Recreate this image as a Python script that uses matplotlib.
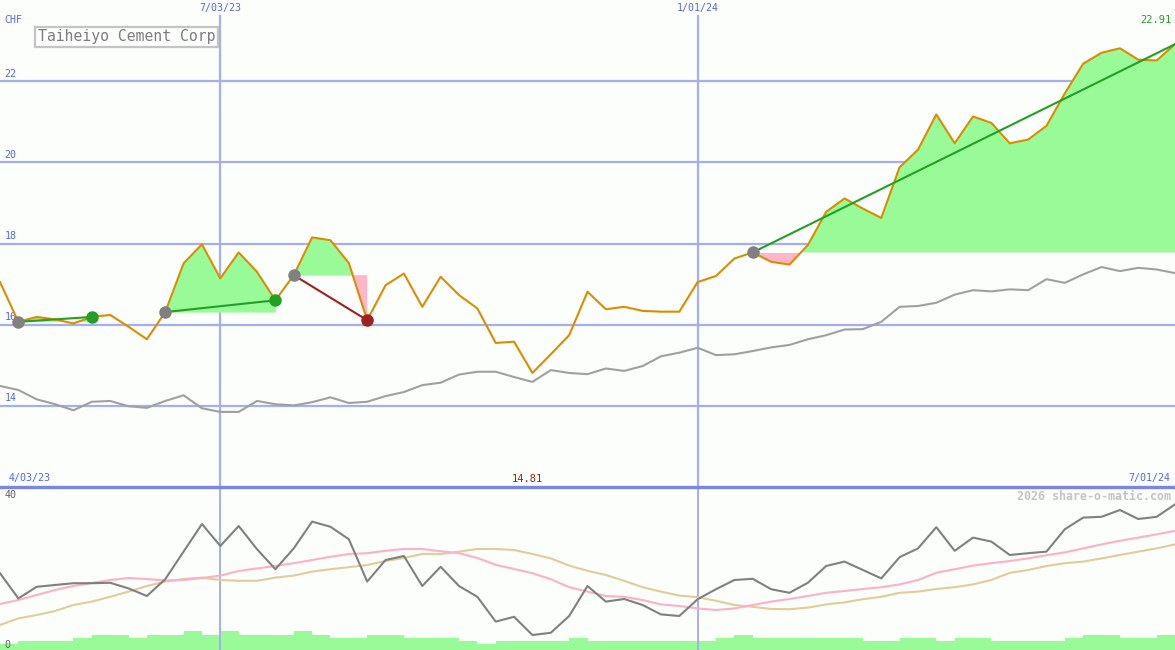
import matplotlib
matplotlib.use("Agg")
import matplotlib.pyplot as plt
import matplotlib.transforms as mtransforms
import numpy as np

# ---------------- data (weekly, 65 points) ----------------
price = [17.05, 16.07, 16.19, 16.13, 16.03, 16.19, 16.24, 15.95, 15.64, 16.31,
         17.51, 17.98, 17.14, 17.78, 17.30, 16.60, 17.22, 18.15, 18.08, 17.52,
         16.11, 16.97, 17.26, 16.44, 17.18, 16.73, 16.40, 15.55, 15.58, 14.81,
         15.27, 15.74, 16.81, 16.38, 16.44, 16.34, 16.32, 16.32, 17.05, 17.20,
         17.63, 17.78, 17.55, 17.48, 17.96, 18.78, 19.11, 18.86, 18.63, 19.88,
         20.31, 21.18, 20.47, 21.13, 20.97, 20.47, 20.56, 20.90, 21.70, 22.43,
         22.70, 22.81, 22.53, 22.51, 22.91]

bench = [14.49, 14.39, 14.16, 14.04, 13.89, 14.10, 14.12, 13.99, 13.95, 14.12,
         14.26, 13.94, 13.85, 13.85, 14.12, 14.04, 14.01, 14.09, 14.21, 14.07,
         14.10, 14.24, 14.34, 14.51, 14.57, 14.77, 14.84, 14.84, 14.71, 14.59,
         14.88, 14.81, 14.78, 14.92, 14.86, 14.98, 15.22, 15.31, 15.43, 15.25,
         15.27, 15.35, 15.44, 15.50, 15.64, 15.74, 15.88, 15.89, 16.07, 16.44,
         16.46, 16.54, 16.74, 16.85, 16.82, 16.87, 16.85, 17.12, 17.03, 17.24,
         17.42, 17.32, 17.40, 17.36, 17.27]

osc = [19.2, 12.9, 15.8, 16.25, 16.7, 16.7, 16.8, 15.4, 13.5, 17.7,
       24.6, 31.5, 26.0, 31.0, 25.2, 20.2, 25.4, 32.1, 30.8, 27.7,
       17.1, 22.5, 23.5, 16.0, 20.8, 16.0, 13.3, 7.1, 8.3, 3.75,
       4.3, 8.5, 16.0, 12.1, 12.75, 11.25, 8.9, 8.5, 12.7, 15.2,
       17.5, 17.8, 15.2, 14.3, 16.8, 21.0, 22.1, 20.0, 17.9, 23.2,
       25.4, 30.7, 24.8, 28.1, 27.1, 23.75, 24.2, 24.6, 30.2, 33.1,
       33.3, 35.0, 32.75, 33.3, 36.4]

ma_fast = [11.5, 12.5, 13.75, 15.0, 16.0, 16.75, 17.5, 18.0, 17.75, 17.4,
           17.5, 18.0, 18.6, 19.75, 20.4, 21.0, 21.7, 22.5, 23.3, 24.0,
           24.2, 24.8, 25.25, 25.25, 24.7, 24.2, 23.0, 21.3, 20.25, 19.2,
           17.7, 15.7, 14.6, 13.5, 13.3, 12.5, 11.4, 11.0, 10.4, 10.0,
           10.4, 11.25, 12.1, 12.75, 13.5, 14.3, 14.75, 15.25, 15.7, 16.4,
           17.5, 19.3, 20.2, 21.1, 21.7, 22.25, 22.9, 23.7, 24.4, 25.4,
           26.4, 27.3, 28.1, 28.9, 29.8]

ma_slow = [6.25, 7.9, 8.75, 9.75, 11.25, 12.1, 13.3, 14.6, 16.0, 17.1,
           17.75, 18.1, 17.5, 17.3, 17.3, 18.1, 18.6, 19.6, 20.2, 20.7,
           21.25, 22.25, 23.0, 24.0, 24.0, 24.6, 25.25, 25.25, 25.0, 24.0,
           22.9, 21.1, 19.8, 18.75, 17.3, 15.7, 14.6, 13.6, 13.2, 12.3,
           11.25, 10.8, 10.25, 10.2, 10.6, 11.4, 11.9, 12.7, 13.3, 14.3,
           14.6, 15.25, 15.7, 16.4, 17.5, 19.3, 20.0, 21.0, 21.7, 22.1,
           22.9, 23.75, 24.6, 25.4, 26.4]

volume = [2, 3, 3, 3, 4, 5, 5, 4, 5, 5, 6, 5, 6, 5, 5, 5, 6, 5, 4, 4,
          5, 5, 4, 4, 4, 3, 2, 3, 3, 3, 3, 4, 3, 3, 3, 3, 3, 3, 3, 4,
          5, 4, 4, 4, 4, 4, 4, 3, 3, 4, 4, 3, 4, 4, 3, 3, 3, 3, 4, 5,
          5, 4, 4, 5]

# trend segments: (start index, end index)
trends = [(1, 5), (9, 15), (16, 20), (41, 64)]

price_ticks = [14, 16, 18, 20, 22]
vlines = [(12, "7/03/23"), (38, "1/01/24")]
start_label, end_label = "4/03/23", "7/01/24"
title = "Taiheiyo Cement Corp"
currency = "CHF"
osc_labels = [(40, "40"), (0, "0")]

# ---------------- style ----------------
BG = "#fbfefb"
GRID = "#a4aef0"
SEP = "#7a86e6"
BLUE_TXT = "#5566e8"
ORANGE = "#dd8c00"
GRAY = "#a0a0a0"
DGRAY = "#808080"
PINK = "#ffb0c8"
TAN = "#e2cc98"
LGREEN = "#98fb98"
LPINK = "#ffb6c8"
DGREEN = "#22a022"
DRED = "#a02020"
FONT = "DejaVu Sans Mono"

W, H = 1175, 650
fig = plt.figure(figsize=(W / 100, H / 100), dpi=100, facecolor=BG)
split = 487
ax = fig.add_axes([0, (H - split) / H, 1, split / H])
axl = fig.add_axes([0, 0, 1, (H - split) / H])
for a in (ax, axl):
    a.set_facecolor(BG)
    a.set_xticks([])
    a.set_yticks([])
    for s in a.spines.values():
        s.set_visible(False)

n = len(price)
x = np.arange(n)
ax.set_xlim(0, n - 1)
ax.set_ylim(12, 24)
axl.set_xlim(0, n - 1)
LTOP = 40.75
axl.set_ylim(0, LTOP)

# ---------------- top panel ----------------
for t in price_ticks:
    ax.axhline(t, color=GRID, lw=1.6, zorder=1)
    ax.text(0.004, t + 0.06, str(t), transform=mtransforms.blended_transform_factory(ax.transAxes, ax.transData),
            ha="left", va="bottom", color=BLUE_TXT, fontsize=7.2, family=FONT, zorder=2)

for xi, lab in vlines:
    ax.axvline(xi, ymin=0, ymax=(split - 16) / split, color=GRID, lw=1.6, zorder=1)
    ax.text(xi, 1 - 8 / split, lab, transform=mtransforms.blended_transform_factory(ax.transData, ax.transAxes),
            ha="center", va="center", color=BLUE_TXT, fontsize=7.2, family=FONT)
    axl.axvline(xi, color=GRID, lw=1.4, zorder=1)

ax.text(0.004, 1 - 20 / split, currency, transform=ax.transAxes, ha="left", va="center",
        color=BLUE_TXT, fontsize=7.2, family=FONT)
ax.text(38 / W, 1 - 37 / split, title, transform=ax.transAxes, ha="left", va="center",
        color="#7c7c7c", fontsize=10.6, family=FONT,
        bbox=dict(boxstyle="square,pad=0.18", fc=BG, ec="#c4c4c4", lw=1.6))

p = np.array(price)
for s, e in trends:
    xs = x[s:e + 1]
    ys = p[s:e + 1]
    base = p[s]
    ax.fill_between(xs, ys, base, where=ys >= base, interpolate=True, color=LGREEN, lw=0, zorder=2)
    ax.fill_between(xs, ys, base, where=ys <= base, interpolate=True, color=LPINK, lw=0, zorder=2)

ax.plot(x, bench, color=GRAY, lw=1.5, zorder=3)
ax.plot(x, price, color=ORANGE, lw=1.5, zorder=4)

for k, (s, e) in enumerate(trends):
    up = p[e] >= p[s]
    c = DGREEN if up else DRED
    ax.plot([s, e], [p[s], p[e]], color=c, lw=1.5, zorder=5)
    ax.plot(s, p[s], "o", ms=9, color=DGRAY, mec="none", zorder=6)
    if k < len(trends) - 1:
        ax.plot(e, p[e], "o", ms=9, color=c, mec="none", zorder=6)

imax = n - 1
ax.text(imax - 0.2, 1 - 20 / split, f"{price[-1]:.2f}",
        transform=mtransforms.blended_transform_factory(ax.transData, ax.transAxes),
        ha="right", va="center", color=DGREEN, fontsize=7.5, family=FONT)
imin = int(np.argmin(p))
ax.text(imin - 0.3, 8.5 / split, f"{price[imin]:.2f}",
        transform=mtransforms.blended_transform_factory(ax.transData, ax.transAxes),
        ha="center", va="center", color=DRED, fontsize=7.5, family=FONT)
ax.text(0.007, 8.5 / split, start_label, transform=ax.transAxes, ha="left", va="center",
        color=BLUE_TXT, fontsize=7.2, family=FONT)
ax.text(0.996, 8.5 / split, end_label, transform=ax.transAxes, ha="right", va="center",
        color=BLUE_TXT, fontsize=7.2, family=FONT)

# ---------------- lower panel ----------------
axv = axl.twinx()
axv.set_xlim(0, n - 1)
axv.set_ylim(0, (H - split) / 3.1)
axv.set_yticks([])
for s in axv.spines.values():
    s.set_visible(False)
axv.bar(np.arange(len(volume)), volume, width=1.0, align="edge", color=LGREEN, lw=0, zorder=2)

axl.set_zorder(axv.get_zorder() + 1)
axl.patch.set_visible(False)
axv.patch.set_visible(True)
axv.patch.set_facecolor(BG)

axl.plot(x, ma_slow, color=TAN, lw=1.5, zorder=3)
axl.plot(x, ma_fast, color=PINK, lw=1.5, zorder=3)
axl.plot(x, osc, color=DGRAY, lw=1.5, zorder=4)
# separator between panels
axl.axhline(LTOP, color=SEP, lw=2.4, zorder=8, clip_on=False)
for v, lab in osc_labels:
    axl.text(0.004, v + (1.3 if v == 0 else -1.3), lab,
             transform=mtransforms.blended_transform_factory(axl.transAxes, axl.transData),
             ha="left", va="center", color="#606060", fontsize=7.2, family=FONT)
axl.text(0.997, 1 - 9 / (H - split), "2026 share-o-matic.com", transform=axl.transAxes,
         ha="right", va="center", color="#c4c4c4", fontsize=8.4, family=FONT, fontweight="bold")

fig.savefig("out.png", dpi=100, facecolor=BG)
